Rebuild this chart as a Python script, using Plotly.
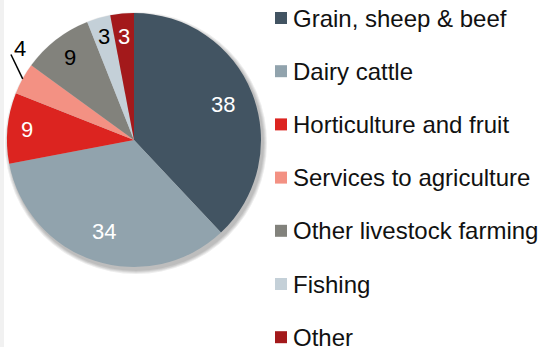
import math
import plotly.graph_objects as go

# Share of farm businesses by industry (%)
categories = [
    "Grain, sheep & beef",
    "Dairy cattle",
    "Horticulture and fruit",
    "Services to agriculture",
    "Other livestock farming",
    "Fishing",
    "Other",
]
shares = [38, 34, 9, 4, 9, 3, 3]

colors = ["#425462", "#91a3ad", "#dc2420", "#f39183", "#82827c", "#c4d0d8", "#a3191b"]
label_colors = ["white", "white", "white", "black", "black", "black", "white"]
label_radius = [0.75, 0.76, 0.85, 1.15, 0.82, 0.85, 0.82]

W, H = 539, 347
CX, CY, R = 134, 140, 127
FONT = "Liberation Sans, Arial, sans-serif"


def px(x):
    return x / W


def py(y):
    return 1 - y / H


def polar(angle_deg, r):
    a = math.radians(angle_deg)
    return CX + r * math.sin(a), CY - r * math.cos(a)


fig = go.Figure()
fig.add_trace(go.Pie(
    labels=categories,
    values=shares,
    sort=False,
    direction="clockwise",
    rotation=0,
    marker=dict(colors=colors, line=dict(width=0)),
    textinfo="none",
    hoverinfo="label+value",
    showlegend=False,
    domain=dict(x=[px(CX - R), px(CX + R)], y=[py(CY + R), py(CY - R)]),
))

shapes = []
annotations = []

# soft drop shadow under the pie
for k in range(4, 0, -1):
    rr = R + k
    shapes.append(dict(
        type="circle", layer="below", xref="paper", yref="paper",
        x0=px(CX + 2 - rr), x1=px(CX + 2 + rr),
        y0=py(CY + 3 + rr), y1=py(CY + 3 - rr),
        fillcolor="rgba(0,0,0,0.07)", line=dict(width=0),
    ))

# narrow grey band on the left edge
shapes.append(dict(
    type="rect", layer="below", xref="paper", yref="paper",
    x0=0, x1=px(4), y0=0, y1=1, fillcolor="#f1f1f1", line=dict(width=0),
))

# value labels placed at each slice's mid-angle
total = sum(shares)
cum = 0
for i, v in enumerate(shares):
    mid = (cum + v / 2) / total * 360
    cum += v
    if label_radius[i] > 1:
        x0, y0 = polar(mid, R)
        x1, y1 = polar(mid + 6, R * 1.18)
        shapes.append(dict(
            type="line", xref="paper", yref="paper",
            x0=px(x0), y0=py(y0), x1=px(x1), y1=py(y1),
            line=dict(color="black", width=1.5),
        ))
        lx, ly = polar(mid + 10, R * label_radius[i])
    else:
        lx, ly = polar(mid, R * label_radius[i])
    annotations.append(dict(
        x=px(lx), y=py(ly), xref="paper", yref="paper",
        text=str(v), showarrow=False, xanchor="center", yanchor="middle",
        font=dict(family=FONT, size=22, color=label_colors[i]),
    ))

# legend: colour swatch and category name per row
ROW0, ROW_STEP = 18, 53.2
for i, name in enumerate(categories):
    yc = ROW0 + i * ROW_STEP
    shapes.append(dict(
        type="rect", xref="paper", yref="paper",
        x0=px(275), x1=px(287), y0=py(yc + 6), y1=py(yc - 6),
        fillcolor=colors[i], line=dict(width=0),
    ))
    annotations.append(dict(
        x=px(291), y=py(yc), xref="paper", yref="paper",
        text=name, showarrow=False, xanchor="left", yanchor="middle",
        font=dict(family=FONT, size=24, color="#111111"),
    ))

fig.update_layout(
    width=W, height=H,
    margin=dict(l=0, r=0, t=0, b=0),
    paper_bgcolor="white",
    plot_bgcolor="white",
    shapes=shapes,
    annotations=annotations,
)

fig.write_html("out.html", config={"displayModeBar": False})
